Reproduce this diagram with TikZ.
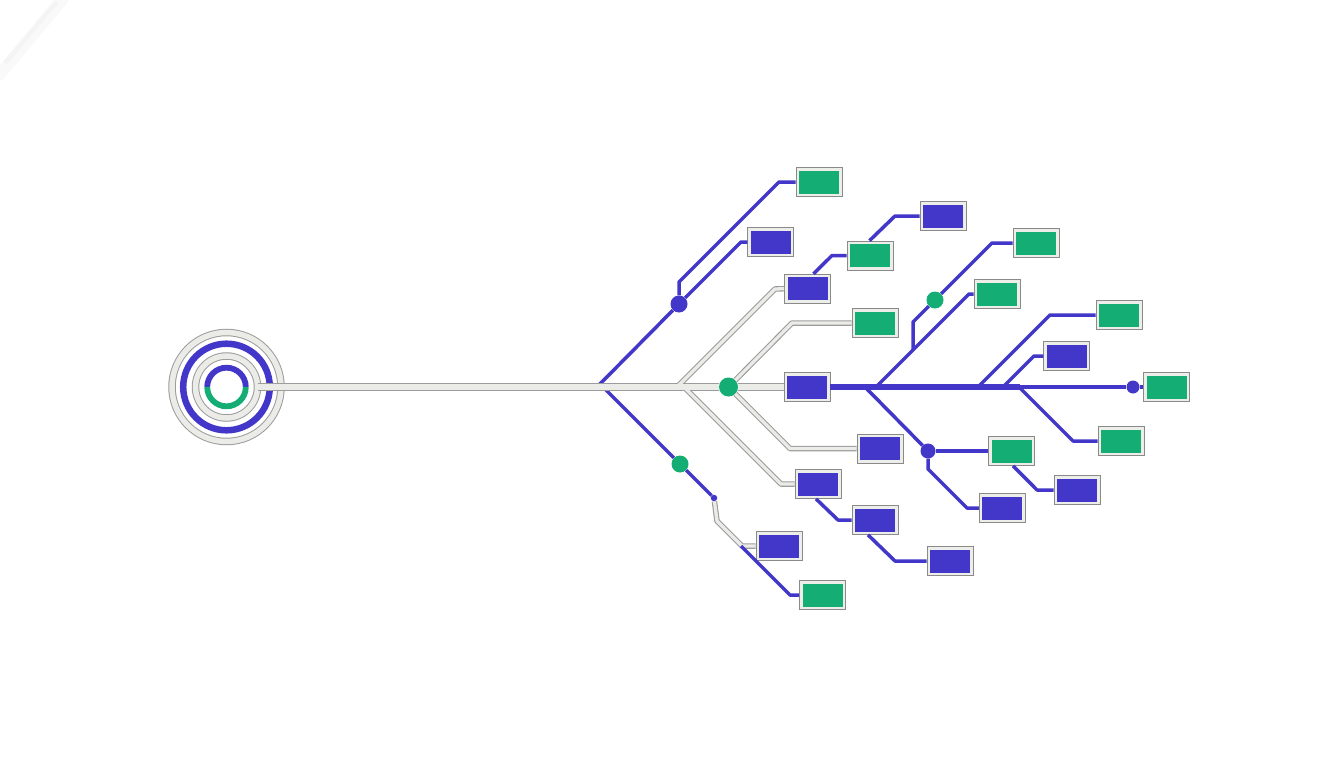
\documentclass[tikz,border=0pt]{standalone}
\definecolor{bl}{HTML}{4237C8}
\definecolor{gr}{HTML}{14AD73}
\definecolor{grfill}{HTML}{EBEBE7}
\definecolor{gredge}{HTML}{9C9C9C}
\definecolor{boxfill}{HTML}{EDEDEA}
\definecolor{boxedge}{HTML}{8A8A8A}
\begin{document}
\begin{tikzpicture}[x=1pt,y=-1pt,
  tbox/.style={draw=boxedge, line width=0.7pt, fill=boxfill, minimum width=46pt, minimum height=29pt, inner sep=0pt,
    path picture={\fill[#1] ([shift={(3pt,3pt)}]path picture bounding box.south west) rectangle ([shift={(-3pt,-3pt)}]path picture bounding box.north east);}},
  bbox/.style={tbox=bl}, gbox/.style={tbox=gr},
  tdot/.style={circle, fill=#1, inner sep=0pt, draw=none},
  bline/.style={draw=bl, line width=3.5pt, line join=round},
  bthick/.style={draw=bl, line width=6pt},
]
\useasboundingbox (0,0) rectangle (1344,768);
% faint smudge top-left
\draw[gray!5, line width=12pt, line cap=round] (0,74) -- (62,0);
\draw[gray!9, line width=4pt, line cap=round] (6,62) -- (56,3);
% target rings
\coordinate (C) at (226.5,387);
\draw[gredge, line width=7.5pt] (C) circle[radius=54.5pt];
\draw[grfill, line width=5.5pt] (C) circle[radius=54.5pt];
\draw[bl, line width=6.5pt] (C) circle[radius=43.3pt];
\draw[gredge, line width=7.5pt] (C) circle[radius=31pt];
\draw[grfill, line width=5.5pt] (C) circle[radius=31pt];
\draw[bl, line width=5.8pt] ([shift={(0:19.3pt)}]C) arc[start angle=0, end angle=180, radius=19.3pt];
\draw[gr, line width=5.8pt] ([shift={(180:19.3pt)}]C) arc[start angle=180, end angle=360, radius=19.3pt];
\coordinate (ringR) at (257.5,387);

% boxes
\node[gbox] (G1) at (819,182) {};
\node[bbox] (B1) at (770.7,242) {};
\node[bbox] (B3) at (807.5,288.7) {};
\node[gbox] (G2) at (870,255.5) {};
\node[bbox] (B2) at (943,216) {};
\node[gbox] (G3) at (875,323) {};
\node[bbox] (B4) at (807,387) {};
\node[gbox] (G4) at (1036,243) {};
\node[gbox] (G5) at (997,294) {};
\node[gbox] (G6) at (1119,315) {};
\node[bbox] (B5) at (1066.7,356) {};
\node[gbox] (G7) at (1166.7,387) {};
\node[gbox] (G8) at (1121,441) {};
\node[gbox] (G9) at (1011.7,451) {};
\node[bbox] (B12) at (1077,490) {};
\node[bbox] (B11) at (1002.3,508) {};
\node[bbox] (B6) at (880,448.5) {};
\node[bbox] (B7) at (818,484) {};
\node[bbox] (B8) at (875,520) {};
\node[bbox] (B10) at (950,561) {};
\node[bbox] (B9) at (779,546) {};
\node[gbox] (G10) at (822.5,595) {};

% dots
\node[tdot=bl, minimum size=17pt] (D1) at (679,304) {};
\node[tdot=gr, minimum size=17pt] (D2) at (680,464) {};
\node[tdot=gr, minimum size=19pt] (H) at (728.5,387) {};
\node[tdot=gr, minimum size=17pt] (D5) at (935,300) {};
\node[tdot=bl, minimum size=15pt] (D6) at (928,451) {};
\node[tdot=bl, minimum size=13pt] (D7) at (1133,387) {};
\node[tdot=bl, minimum size=6.5pt] (tip) at (714,498) {};

% junction coordinates
\coordinate (J1) at (597,387);
\coordinate (J2) at (603,387);
\coordinate (J3) at (677,387);
\coordinate (J4) at (684,387);
\coordinate (T2) at (1020,387);
\coordinate (k1) at (741,546);

% blue lines under the grey trunk
\draw[bline] (J1) -- (D1);
\draw[bline] (D1) -- (679,282) -- (779,182) -- (G1.west);
\draw[bline] (D1) -- (741,242) -- (B1.west);
\draw[bline] (J2) -- (D2);
\draw[bline] (D2) -- (tip);

% grey network: outline then fill
\foreach \tw/\bw/\c in {8.5/5.5/gredge,6.2/3.3/grfill}{
  \draw[\c, line width=\tw pt] (ringR) -- (H);
  \draw[\c, line width=\tw pt] (H) -- (B4.west);
  \draw[\c, line width=\bw pt, line join=round] (J3) -- (775,289) -- (B3.west);
  \draw[\c, line width=\bw pt, line join=round] (H) -- (792,323) -- (G3.west);
  \draw[\c, line width=\bw pt, line join=round] (J4) -- (781,484) -- (B7.west);
  \draw[\c, line width=\bw pt, line join=round] (H) -- (790,448.5) -- (B6.west);
  \draw[\c, line width=\bw pt, line join=round] (tip) -- (717,521) -- (742,546) -- (B9.west);
}

% blue lines
\draw[bline] (k1) -- (790,595) -- (G10.west);
\draw[bthick] (B4.east) -- (T2);
\draw[bline] (T2) -- (D7);
\draw[bline] (D7) -- (G7.west);
\draw[bline] (876,387) -- (969,294) -- (G5.west);
\draw[bline] (913,350) -- (913,322) -- (D5);
\draw[bline] (D5) -- (992,243) -- (G4.west);
\draw[bline] (978,387) -- (1050,315) -- (G6.west);
\draw[bline] (1003,387) -- (1034,356) -- (B5.west);
\draw[bline] (1019,387) -- (1073,441) -- (G8.west);
\draw[bline] (865,387) -- (D6);
\draw[bline] (D6) -- (G9.west);
\draw[bline] (D6) -- (928,469) -- (967,508) -- (B11.west);
\draw[bline] ([xshift=1.3pt]G9.south) -- (1037,490) -- (B12.west);
\draw[bline] ([xshift=6pt]B3.north) -- (832,255.5) -- (G2.west);
\draw[bline] ([xshift=-0.5pt]G2.north) -- (895,216) -- (B2.west);
\draw[bline] ([xshift=-2pt]B7.south) -- (838,520) -- (B8.west);
\draw[bline] ([xshift=-7pt]B8.south) -- (895,561) -- (B10.west);
\end{tikzpicture}
\end{document}
